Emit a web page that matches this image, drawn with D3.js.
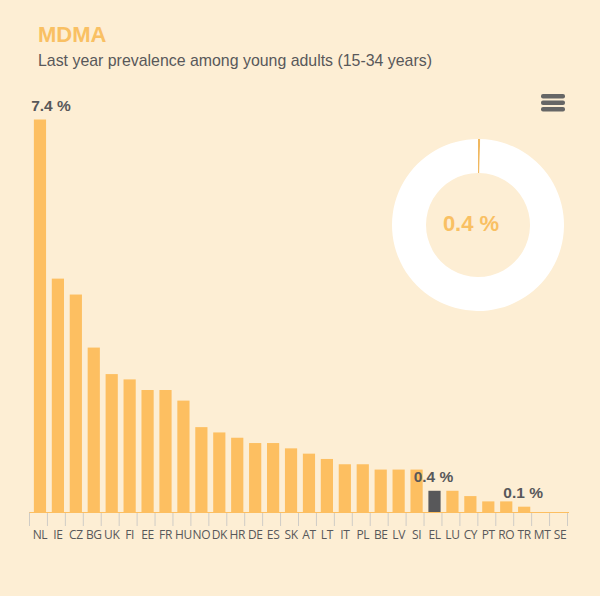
<!DOCTYPE html>
<html>
<head>
<meta charset="utf-8">
<script src="https://cdn.jsdelivr.net/npm/d3@7"></script>
<style>
  html, body { margin: 0; padding: 0; background: #fdeed4; }
  svg { display: block; }
  text { font-family: "Liberation Sans", sans-serif; }
</style>
</head>
<body>
<svg id="chart"></svg>
<script>
const countries = ['NL','IE','CZ','BG','UK','FI','EE','FR','HU','NO','DK','HR','DE','ES','SK','AT','LT','IT','PL','BE','LV','SI','EL','LU','CY','PT','RO','TR','MT','SE'];
const prevalence = [7.4,4.4,4.1,3.1,2.6,2.5,2.3,2.3,2.1,1.6,1.5,1.4,1.3,1.3,1.2,1.1,1.0,0.9,0.9,0.8,0.8,0.8,0.4,0.4,0.3,0.2,0.2,0.1,0,0];
const highlighted = 'EL';
const valueLabels = ['NL','EL','TR'];
const donutValue = [0.4, 99.6];

const width = 600;
const height = 596;
const orange = '#fdbf61';
const dark = '#58585a';

const svg = d3.select('#chart').attr('width', width).attr('height', height);

svg.append('text').attr('x', 38).attr('y', 42)
  .attr('font-size', 22).attr('font-weight', 'bold').attr('fill', '#f9c063').text('MDMA');
svg.append('text').attr('x', 38).attr('y', 66)
  .attr('font-size', 15.9).attr('fill', '#58585a').text('Last year prevalence among young adults (15-34 years)');

const x = d3.scaleBand().domain(countries).range([31, 569]).paddingInner(0.32).paddingOuter(0.16);
const y = d3.scaleLinear().domain([0, 7.4]).range([512, 119.5]);

// ticks sit on the band edges, a bit left of the bars
const step = x.step();
const edges = d3.range(countries.length + 1).map(i => 29.5 + i * step);

svg.append('g').selectAll('line').data(edges).enter().append('line')
  .attr('x1', d => d).attr('x2', d => d)
  .attr('y1', 512).attr('y2', 526)
  .attr('stroke', '#cfccc6').attr('stroke-width', 1);

svg.append('line').attr('x1', 29.5).attr('x2', 569).attr('y1', 512.5).attr('y2', 512.5)
  .attr('stroke', orange).attr('stroke-width', 1);

svg.selectAll('.bar').data(countries).enter().append('rect')
  .attr('class', 'bar')
  .attr('x', d => x(d))
  .attr('width', x.bandwidth())
  .attr('y', (d, i) => y(prevalence[i]))
  .attr('height', (d, i) => 512 - y(prevalence[i]))
  .attr('fill', d => d === highlighted ? dark : orange);

svg.selectAll('.country').data(countries).enter().append('text')
  .attr('class', 'country')
  .attr('x', d => x(d) + x.bandwidth() / 2)
  .attr('y', 539)
  .attr('text-anchor', 'middle')
  .attr('font-size', 12)
  .attr('letter-spacing', -0.4)
  .style('font-family', '"Open Sans", sans-serif')
  .attr('fill', '#58585a')
  .text(d => d);

// first label gets pushed in so it stays inside the plot edge
svg.selectAll('.value').data(valueLabels).enter().append('text')
  .attr('class', 'value')
  .attr('x', d => Math.max(x(d) + x.bandwidth() / 2 - 1, 51))
  .attr('y', d => y(prevalence[countries.indexOf(d)]) - 9)
  .attr('text-anchor', 'middle')
  .attr('font-size', 15.5)
  .attr('font-weight', 'bold')
  .attr('fill', '#58585a')
  .text(d => d3.format('.1f')(prevalence[countries.indexOf(d)]) + ' %');

// donut
const pie = d3.pie().sort(null)(donutValue);
const arc = d3.arc().innerRadius(52).outerRadius(86);
const donut = svg.append('g').attr('transform', 'translate(478,225)');
donut.selectAll('path').data(pie).enter().append('path')
  .attr('d', arc)
  .attr('fill', (d, i) => i === 0 ? '#f0b860' : '#ffffff');
donut.append('text').attr('text-anchor', 'middle').attr('y', 5.5)
  .attr('x', -7)
  .attr('font-size', 22).attr('font-weight', 'bold').attr('fill', '#f9c063')
  .text(donutValue[0] + ' %');

// menu icon
const menu = svg.append('g').attr('transform', 'translate(541,94)');
menu.selectAll('rect').data([0, 1, 2]).enter().append('rect')
  .attr('x', 0).attr('y', d => d * 6.5)
  .attr('width', 24).attr('height', 4.5).attr('rx', 2)
  .attr('fill', '#666');
</script>
</body>
</html>
